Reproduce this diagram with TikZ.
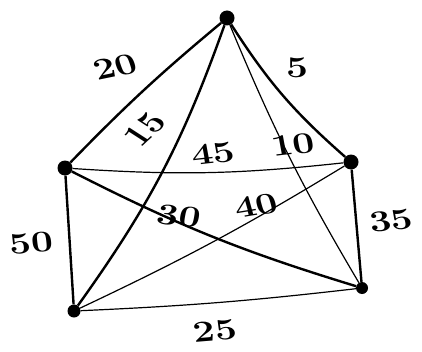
\documentclass[tikz,border=0pt]{standalone}
\begin{document}
\begin{tikzpicture}[x=1pt,y=1pt,
  vtx/.style={circle,fill=black,inner sep=0pt,minimum size=15pt},
  thickedge/.style={line width=2.4pt},
  thinedge/.style={line width=1.2pt},
  wlabel/.style={font=\fontsize{30}{33}\selectfont\bfseries,xscale=1.3,inner sep=0pt}]
\useasboundingbox (0,0) rectangle (422,351);
\node[vtx] (T) at (227,333) {};
\node[vtx] (L) at (65,183) {};
\node[vtx] (R) at (351,189) {};
\node[vtx,minimum size=13pt] (BL) at (74,40) {};
\node[vtx,minimum size=12pt] (BR) at (362,63) {};
% thick edges
\draw[thickedge] (T) to[bend right=3] (L);
\draw[thickedge] (T) to[bend right=8] (R);
\draw[thickedge] (T) to[bend left=8] (BL);
\draw[thickedge] (L) -- (BL);
\draw[thickedge] (R) -- (BR);
\draw[thickedge] (L) to[bend right=5] (BR);
% thin edges
\draw[thinedge] (T) to[bend right=4] (BR);
\draw[thinedge] (L) to[bend right=5] (R);
\draw[thinedge] (BL) to[bend right=3] (R);
\draw[thinedge] (BL) to[bend right=2] (BR);
% labels
\node[wlabel,rotate=15] (l20) at (115,284) {20};
\node[wlabel] (l5) at (297,283) {5};
\node[wlabel,rotate=50] (l15) at (145,222) {15};
\node[wlabel,rotate=8] (l45) at (213,197) {45};
\node[wlabel,rotate=8] (l10) at (293,206) {10};
\node[wlabel,rotate=5] (l50) at (31,108) {50};
\node[wlabel,rotate=-8] (l30) at (179,135) {30};
\node[wlabel,rotate=12] (l40) at (256,145) {40};
\node[wlabel,rotate=8] (l35) at (391,130) {35};
\node[wlabel,rotate=6] (l25) at (215,20) {25};
\end{tikzpicture}
\end{document}
